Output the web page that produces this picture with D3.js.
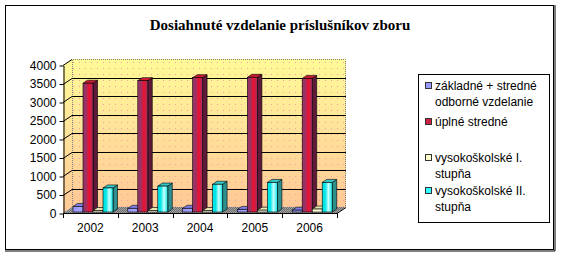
<!DOCTYPE html>
<html>
<head>
<meta charset="utf-8">
<script src="https://cdn.jsdelivr.net/npm/d3@7"></script>
<style>
  body { margin: 0; background: #fff; }
  text { font-family: "Liberation Sans", Arial, sans-serif; }
</style>
</head>
<body>
<div id="chart"></div>
<script>

// data

var years = ["2002", "2003", "2004", "2005", "2006"];
var seriesNames = [
  ["základné + stredné", "odborné vzdelanie"],
  ["úplné stredné"],
  ["vysokoškolské I.", "stupňa"],
  ["vysokoškolské II.", "stupňa"]
];
var zakladne = [150, 100, 100, 70, 50];
var uplne = [3480, 3550, 3630, 3640, 3610];
var vs1 = [40, 40, 40, 50, 80];
var vs2 = [650, 700, 750, 800, 800];
var yTicks = [0, 500, 1000, 1500, 2000, 2500, 3000, 3500, 4000];
var title = "Dosiahnuté vzdelanie príslušníkov zboru";

var allSeries = [zakladne, uplne, vs1, vs2];

// colours of each series: front face edges / middle, top, side

var looks = [
  { edge: "#9999ff", mid: "#a6a6ff", top: "#8080e6", side: "#5c5cb8", key: "#9999ff" },
  { edge: "#993366", mid: "#f0102e", top: "#cc1a33", side: "#5e1a38", key: "#cc2244" },
  { edge: "#ffffcc", mid: "#ffffe6", top: "#e6e6b3", side: "#c2c294", key: "#ffffcc" },
  { edge: "#00e6e6", mid: "#ccffff", top: "#33cccc", side: "#2e8f8f", key: "#33ffff" }
];

var svgWidth = 561;
var svgHeight = 257;

// depth of the floor / back wall and of one bar

var depthX = 9, depthY = 6;
var barDX = 4.5, barDY = 3;

var svg = d3.select("#chart")
  .append("svg")
  .attr("width", svgWidth)
  .attr("height", svgHeight);

var defs = svg.append("defs");

// wall gradient yellow -> peach

var wallGrad = defs.append("linearGradient")
  .attr("id", "wallGrad")
  .attr("x1", 0).attr("y1", 0).attr("x2", 0).attr("y2", 1);
wallGrad.append("stop").attr("offset", "0%").attr("stop-color", "#fffa96");
wallGrad.append("stop").attr("offset", "45%").attr("stop-color", "#ffe49a");
wallGrad.append("stop").attr("offset", "100%").attr("stop-color", "#ffc896");

var dots = defs.append("pattern")
  .attr("id", "dots")
  .attr("width", 6).attr("height", 6)
  .attr("patternUnits", "userSpaceOnUse");
dots.append("rect").attr("x", 1).attr("y", 2).attr("width", 1).attr("height", 1).attr("fill", "#f2a0a0");

var floorPat = defs.append("pattern")
  .attr("id", "floorPat")
  .attr("width", 2).attr("height", 2)
  .attr("patternUnits", "userSpaceOnUse");
floorPat.append("rect").attr("width", 2).attr("height", 2).attr("fill", "#a0a0a0");
floorPat.append("rect").attr("width", 1).attr("height", 1).attr("fill", "#6e6e6e");
floorPat.append("rect").attr("x", 1).attr("y", 1).attr("width", 1).attr("height", 1).attr("fill", "#6e6e6e");

looks.forEach(function(lk, i) {
  var g = defs.append("linearGradient")
    .attr("id", "front" + i)
    .attr("x1", 0).attr("y1", 0).attr("x2", 1).attr("y2", 0);
  g.append("stop").attr("offset", "0%").attr("stop-color", lk.edge);
  g.append("stop").attr("offset", "30%").attr("stop-color", lk.edge);
  g.append("stop").attr("offset", "62%").attr("stop-color", lk.mid);
  g.append("stop").attr("offset", "100%").attr("stop-color", lk.edge);
});

// outer frame

svg.append("rect")
  .attr("x", 5.5).attr("y", 5.5)
  .attr("width", 548).attr("height", 244)
  .attr("fill", "none")
  .attr("stroke", "#000");
svg.append("path")
  .attr("d", "M555,5V251H5")
  .attr("fill", "none")
  .attr("stroke", "#000");

// title

svg.append("text")
  .attr("x", 280)
  .attr("y", 30)
  .attr("text-anchor", "middle")
  .style("font-family", "'Liberation Serif', 'Times New Roman', serif")
  .style("font-weight", "bold")
  .style("font-size", "15px")
  .text(title);

// scales

var xScale = d3.scaleBand()
  .domain(years)
  .range([63, 337]);

var inner = d3.scaleBand()
  .domain(d3.range(allSeries.length))
  .range([10, 50]);

var yScale = d3.scaleLinear()
  .domain([0, 4000])
  .range([213, 65]);

var x0 = xScale.range()[0], x1 = xScale.range()[1];
var yTop = yScale(4000), yBase = yScale(0);

// side wall and back wall

svg.append("polygon")
  .attr("points", [[x0, yTop], [x0 + depthX, yTop - depthY], [x0 + depthX, yBase - depthY], [x0, yBase]].join(" "))
  .attr("fill", "url(#wallGrad)");
svg.append("rect")
  .attr("x", x0 + depthX).attr("y", yTop - depthY)
  .attr("width", x1 - x0).attr("height", yBase - yTop)
  .attr("fill", "url(#wallGrad)");
svg.append("rect")
  .attr("x", x0 + depthX).attr("y", yTop - depthY)
  .attr("width", x1 - x0).attr("height", yBase - yTop)
  .attr("fill", "url(#dots)");
svg.append("path")
  .attr("d", `M${x0 + depthX + 0.5},${yBase - depthY}V${yTop - depthY + 0.5}H${x1 + depthX - 0.5}V${yBase - depthY}`)
  .attr("fill", "none")
  .attr("stroke", "#808080")
  .attr("stroke-dasharray", "1,1");

// gridlines with the diagonal from the axis to the wall

var grid = svg.append("g");
yTicks.filter(d => d > 0 && d < 4000).forEach(function(t) {
  var y = Math.round(yScale(t)) + 0.5;
  grid.append("path")
    .attr("d", `M${x0},${y}L${x0 + depthX},${y - depthY}H${x1 + depthX}`)
    .attr("fill", "none")
    .attr("stroke", "#000");
});
grid.append("path")
  .attr("d", `M${x0},${Math.round(yTop) + 0.5}L${x0 + depthX},${Math.round(yTop) + 0.5 - depthY}`)
  .attr("fill", "none")
  .attr("stroke", "#000");

// floor

svg.append("polygon")
  .attr("points", [[x0, yBase], [x1, yBase], [x1 + depthX, yBase - depthY], [x0 + depthX, yBase - depthY]].join(" "))
  .attr("fill", "url(#floorPat)");

// bars, drawn left to right so the next bar hides the side face

var bars = svg.append("g");
years.forEach(function(yr, c) {
  allSeries.forEach(function(values, s) {
    var lk = looks[s];
    var bx = xScale(yr) + inner(s);
    var bw = inner.bandwidth();
    var yb = yBase - 1;
    var yt = yScale(values[c]) - 1;

    bars.append("polygon")
      .attr("points", [[bx + bw, yt], [bx + bw + barDX, yt - barDY], [bx + bw + barDX, yb - barDY], [bx + bw, yb]].join(" "))
      .attr("fill", lk.side)
      .attr("stroke", "#000")
      .attr("stroke-width", 0.6);
    bars.append("polygon")
      .attr("points", [[bx, yt], [bx + bw, yt], [bx + bw + barDX, yt - barDY], [bx + barDX, yt - barDY]].join(" "))
      .attr("fill", lk.top)
      .attr("stroke", "#000")
      .attr("stroke-width", 0.6);
    bars.append("rect")
      .attr("x", bx).attr("y", yt)
      .attr("width", bw).attr("height", yb - yt)
      .attr("fill", "url(#front" + s + ")")
      .attr("stroke", "#000")
      .attr("stroke-width", 0.6);
  });
});

// y axis

var leftAxis = d3.axisLeft(yScale)
  .tickValues(yTicks)
  .tickFormat(d3.format("d"))
  .tickSize(4)
  .tickSizeOuter(0)
  .tickPadding(3);

var yAxis = svg.append("g")
  .attr("transform", `translate(${x0 + 0.5}, 0.5)`)
  .call(leftAxis);
yAxis.selectAll("text")
  .style("font-size", "12px")
  .attr("fill", "#000")
  .style("font-family", "'Liberation Sans', Arial, sans-serif");

// x axis: labels in the middle, ticks on the category edges

var bottomAxis = d3.axisBottom(xScale)
  .tickSize(0)
  .tickPadding(10);

var xAxis = svg.append("g")
  .attr("transform", `translate(0, ${Math.round(yBase) + 0.5})`)
  .call(bottomAxis);
xAxis.select(".domain").remove();
xAxis.selectAll("text")
  .style("font-size", "12px")
  .attr("fill", "#000")
  .style("font-family", "'Liberation Sans', Arial, sans-serif");

var edges = years.map(d => xScale(d)).concat([x1]);
svg.append("path")
  .attr("d", `M${x0},${Math.round(yBase) + 0.5}H${x1}L${x1 + depthX},${Math.round(yBase) + 0.5 - depthY}`)
  .attr("fill", "none")
  .attr("stroke", "#000");
svg.selectAll(".xtick")
  .data(edges)
  .enter()
  .append("line")
  .attr("x1", d => Math.round(d) + 0.5)
  .attr("x2", d => Math.round(d) + 0.5)
  .attr("y1", Math.round(yBase))
  .attr("y2", Math.round(yBase) + 5)
  .attr("stroke", "#000");

// legend

var legend = svg.append("g");
legend.append("rect")
  .attr("x", 418.5).attr("y", 74.5)
  .attr("width", 131).attr("height", 148)
  .attr("fill", "#fff")
  .attr("stroke", "#000");

var rowY = [86, 122, 158, 191];
seriesNames.forEach(function(lines, i) {
  legend.append("rect")
    .attr("x", 425.5).attr("y", rowY[i] - 3.5)
    .attr("width", 6).attr("height", 6)
    .attr("fill", looks[i].key)
    .attr("stroke", "#333");
  lines.forEach(function(line, j) {
    legend.append("text")
      .attr("x", 435)
      .attr("y", rowY[i] + j * 15.5)
      .attr("dy", "0.35em")
      .style("font-size", "12px")
      .text(line);
  });
});

</script>
</body>
</html>
